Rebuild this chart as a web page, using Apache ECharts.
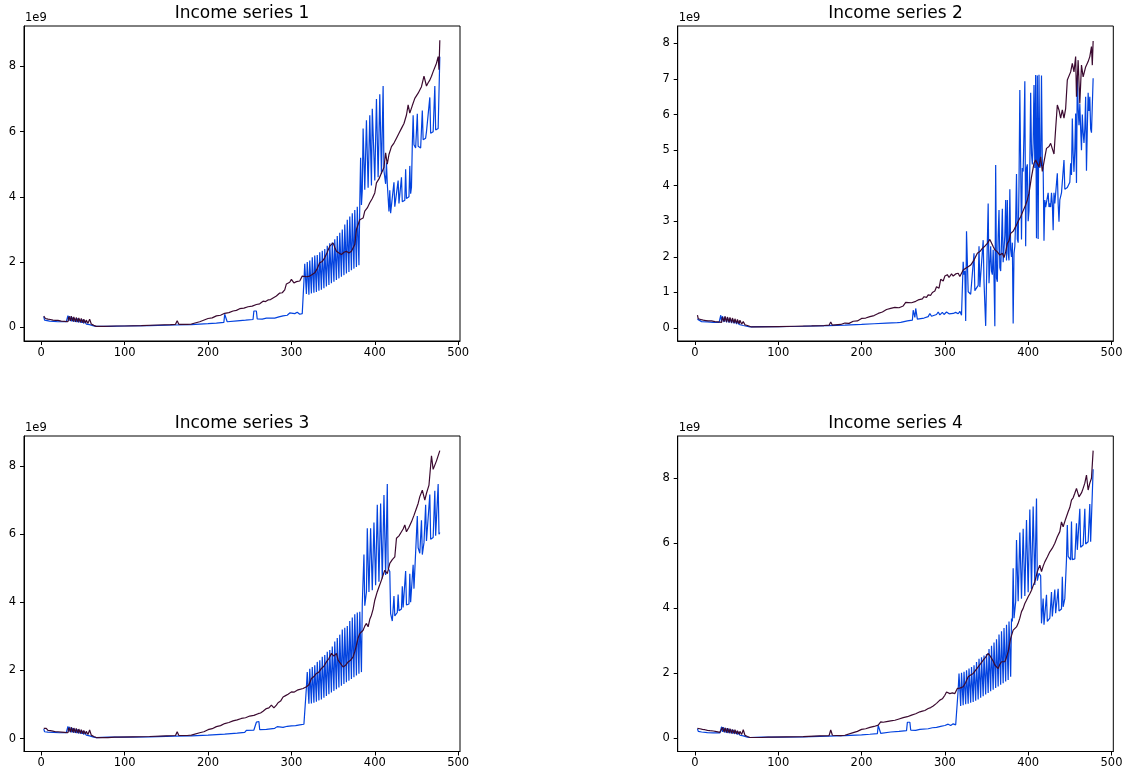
<!DOCTYPE html>
<html>
<head>
<meta charset="utf-8">
<title>Income series</title>
<script src="https://cdn.jsdelivr.net/npm/echarts@6/dist/echarts.min.js"></script>
<style>
  html, body { margin: 0; padding: 0; background: #ffffff; }
  #chart { width: 1130px; height: 776px; }
</style>
</head>
<body>
<div id="chart"></div>
<script>
// Monthly income, in units of 1e9. Each pair is [month index, value].
// "Actual" is the blue quarterly-spiking series, "Trend" the dark smoothed one.

const titles = ['Income series 1', 'Income series 2', 'Income series 3', 'Income series 4'];
const xTicks = [0, 100, 200, 300, 400, 500];
const yTicksEven = [0, 2, 4, 6, 8];
const yTicksAll = [0, 1, 2, 3, 4, 5, 6, 7, 8];
const exponentLabel = '1e9';

const inc1Actual = [
  [3,0.33],[4,0.22],[6,0.2],[10,0.19],[15,0.18],[20,0.17],[25,0.17],[30,0.17],[32,0.36],[33,0.2],[34,0.34],[36,0.18],[37,0.3],[39,0.17],[40,0.28],[42,0.16],[43,0.27],[45,0.15],[46,0.25],[48,0.14],[49,0.23],[51,0.12],[52,0.2],[54,0.1],[56,0.12],[58,0.08],[60,0.07],[63,0.04],[66,0.03],[80,0.03],[100,0.04],[130,0.05],[160,0.07],[180,0.08],[200,0.11],[210,0.13],[219,0.15],[220,0.4],[222,0.38],[223,0.17],[235,0.2],[245,0.22],[254,0.24],[255,0.5],[258,0.5],[259,0.26],[265,0.25],[270,0.28],[280,0.28],[285,0.32],[290,0.35],[295,0.37],[298,0.44],[300,0.38],[304,0.42],[307,0.46],[310,0.4],[313,0.42],[314,0.38],[315,1.4],
  [316,1.95],[318,1.02],[319,2.0],[321,1.0],[322,2.05],[324,1.04],[325,2.15],[327,1.06],[328,2.2],[330,1.08],[331,2.22],[333,1.12],[334,2.3],[336,1.15],[337,2.35],[339,1.2],[340,2.4],[342,1.25],[343,2.5],[345,1.3],[346,2.58],[348,1.35],[349,2.6],[351,1.4],[352,2.7],[354,1.45],[355,2.8],[357,1.5],[358,2.9],[360,1.55],[361,3.0],[363,1.6],[364,3.15],[366,1.65],[367,3.3],[369,1.7],[370,3.4],[372,1.75],[373,3.5],[375,1.8],[376,3.6],[378,1.85],[379,3.7],[381,1.9],[382,3.8],
  [383,5.2],[384,3.75],[385,4.2],[386,6.1],[388,4.22],[390,6.35],[392,4.28],[394,6.5],[396,4.35],[397,6.7],[400,4.5],[402,7.0],[404,4.6],[406,7.15],[408,4.7],[410,7.4],[411,4.8],[413,4.4],[414,5.05],[415,4.4],[417,3.55],[418,4.2],[419,3.5],[420,3.5],[421,3.55],[423,4.45],[424,3.7],[426,3.72],[428,4.5],[429,3.8],[431,3.82],[432,4.6],[433,3.85],[436,3.9],[437,4.85],[438,3.95],[441,4.0],[442,4.95],[443,4.1],[444,4.3],[445,5.6],[446,6.5],[447,5.6],[449,5.5],[450,5.55],[451,6.55],[452,5.55],[455,5.5],[457,6.65],[458,5.75],[461,5.8],[462,6.0],[466,7.05],[467,5.95],[470,6.0],[472,7.4],[473,6.05],[476,6.1],[477,6.15],[478,8.3]
];
const inc1Trend = [
  [3,0.34],[5,0.27],[6,0.31],[8,0.25],[9,0.29],[11,0.24],[12,0.27],[14,0.22],[15,0.26],[17,0.21],[18,0.25],[20,0.21],[22,0.24],[24,0.19],[26,0.22],[28,0.18],[30,0.2],[32,0.17],[33,0.33],[35,0.2],[36,0.34],[38,0.18],[39,0.32],[41,0.17],[42,0.3],[44,0.16],[45,0.29],[47,0.15],[48,0.27],[50,0.14],[51,0.25],[53,0.13],[54,0.22],[56,0.12],[58,0.25],[60,0.1],[63,0.06],[66,0.03],[75,0.03],[90,0.04],[100,0.04],[120,0.05],[140,0.07],[155,0.08],[161,0.09],[163,0.2],[165,0.09],[175,0.09],[180,0.1],[190,0.17],[200,0.27],[205,0.29],[210,0.35],[215,0.37],[220,0.43],[225,0.45],[230,0.5],[234,0.52],[238,0.57],[243,0.59],[248,0.63],[253,0.65],[258,0.7],[262,0.72],[266,0.8],[269,0.79],[272,0.84],[275,0.85],[278,0.9],[282,0.96],[286,1.05],[289,1.06],[292,1.15],[294,1.33],[296,1.3],[298,1.38],[300,1.47],[303,1.36],[306,1.4],[310,1.42],[313,1.57],[318,1.55],[322,1.57],[325,1.62],[328,1.67],[331,1.8],[334,1.98],[337,2.02],[340,2.13],[343,2.3],[346,2.49],[350,2.59],[352,2.45],[354,2.33],[357,2.28],[360,2.23],[363,2.3],[366,2.33],[369,2.28],[372,2.33],[376,2.54],[378,3.0],[382,3.3],[384,3.28],[386,3.35],[388,3.56],[391,3.66],[394,3.82],[397,3.95],[400,4.12],[402,4.43],[405,4.55],[408,4.73],[411,4.9],[413,5.35],[415,5.0],[417,5.3],[420,5.54],[423,5.65],[426,5.8],[429,5.95],[432,6.1],[435,6.25],[438,6.51],[440,6.82],[442,6.57],[445,6.8],[448,7.02],[450,7.05],[452,7.18],[454,7.2],[456,7.38],[459,7.7],[462,7.4],[464,7.5],[466,7.58],[468,7.7],[470,7.84],[472,7.9],[474,8.1],[476,8.3],[477,7.9],[478,8.8]
];

const inc2Actual = [
  [3,0.25],[4,0.2],[8,0.18],[15,0.17],[22,0.16],[29,0.16],[31,0.36],[32,0.18],[33,0.33],[35,0.17],[36,0.31],[38,0.16],[39,0.29],[41,0.15],[42,0.27],[44,0.14],[45,0.25],[47,0.13],[48,0.22],[50,0.11],[51,0.19],[53,0.1],[55,0.08],[58,0.07],[62,0.05],[66,0.03],[80,0.04],[100,0.04],[130,0.05],[160,0.07],[180,0.08],[200,0.1],[215,0.12],[230,0.14],[243,0.15],[245,0.2],[247,0.16],[255,0.2],[261,0.22],[262,0.5],[264,0.3],[265,0.55],[267,0.25],[275,0.28],[280,0.32],[282,0.41],[284,0.33],[290,0.38],[292,0.45],[294,0.37],[297,0.44],[299,0.38],[302,0.45],[305,0.4],[307,0.44],[310,0.41],[313,0.44],[316,0.4],[318,0.47],[320,0.36],[321,0.4],
  [322,1.86],[323,1.5],[324,1.6],[325,0.2],[326,2.72],[328,1.02],[331,0.95],[333,0.92],[335,2.1],[336,1.05],[337,1.1],[340,1.2],[341,2.3],[342,1.15],[344,1.2],[346,2.47],[347,1.3],[348,1.25],[349,0.06],[350,1.3],[351,2.4],[352,3.5],[353,1.26],[355,2.3],[356,1.6],[357,1.5],[358,2.2],[359,1.4],[360,0.05],[361,4.58],[362,1.4],[363,1.3],[364,2.6],[365,3.32],[366,1.7],[367,1.6],[368,2.4],[369,3.35],[370,1.85],[371,1.8],[372,2.6],[373,3.6],[374,1.9],[375,3.6],[376,2.1],[377,1.9],[378,3.9],[379,2.2],[380,2.0],[381,2.4],[382,0.13],[383,2.1],[384,2.3],[385,3.0],[386,4.33],[387,2.5],[388,2.4],[389,4.0],[390,6.69],[391,4.6],[392,2.49],[393,4.5],[394,4.4],[395,5.5],[396,6.94],[397,2.3],[398,4.5],[399,4.6],[400,3.0],[401,3.3],[402,4.55],[403,6.61],[404,4.9],[405,4.6],[406,5.2],[407,6.83],[408,4.5],[409,7.11],[410,2.52],[411,7.1],[412,2.5],[413,7.12],[414,4.5],[415,4.6],[416,7.1],[417,4.6],[418,4.5],[419,2.45],[420,3.6],[421,3.4],[423,3.36],[424,3.8],[425,3.4],[426,3.5],[427,3.4],[428,3.8],[429,3.5],[430,2.75],[431,3.8],[432,3.5],[433,3.5],[435,4.35],[436,3.5],[437,2.99],[438,3.6],[440,3.8],[441,3.85],[443,4.72],[444,3.9],[445,3.9],[447,3.95],[449,4.0],[450,4.1],[451,4.63],[452,4.3],[453,5.89],[454,4.9],[455,4.39],[456,5.0],[457,6.03],[458,4.08],[459,7.11],[460,6.2],[461,5.7],[462,6.3],[463,5.6],[464,5.0],[465,6.0],[466,5.5],[467,5.2],[468,5.6],[469,6.5],[470,4.42],[471,5.6],[472,6.61],[473,6.1],[474,6.5],[475,5.6],[476,5.49],[477,5.5],[478,7.02]
];
const inc2Trend = [
  [3,0.36],[4,0.26],[6,0.31],[7,0.24],[9,0.29],[10,0.22],[12,0.27],[13,0.21],[15,0.26],[16,0.2],[18,0.24],[20,0.2],[22,0.22],[24,0.18],[26,0.2],[28,0.17],[30,0.18],[32,0.16],[33,0.31],[35,0.18],[36,0.33],[38,0.17],[39,0.31],[41,0.16],[42,0.3],[44,0.15],[45,0.28],[47,0.14],[48,0.26],[50,0.13],[51,0.24],[53,0.12],[54,0.22],[56,0.11],[58,0.18],[60,0.09],[63,0.07],[68,0.03],[80,0.03],[100,0.04],[120,0.05],[140,0.06],[155,0.07],[161,0.08],[163,0.17],[165,0.08],[175,0.1],[180,0.14],[185,0.13],[190,0.19],[195,0.2],[200,0.27],[205,0.28],[210,0.32],[215,0.35],[220,0.41],[225,0.45],[230,0.52],[235,0.55],[240,0.58],[245,0.57],[250,0.62],[253,0.72],[255,0.68],[260,0.71],[265,0.75],[268,0.79],[270,0.83],[273,0.82],[275,0.88],[278,0.86],[280,0.93],[283,0.92],[285,1.0],[288,1.04],[290,1.16],[293,1.12],[295,1.37],[298,1.32],[300,1.46],[303,1.5],[305,1.42],[308,1.52],[310,1.46],[313,1.52],[316,1.54],[318,1.45],[320,1.4],[322,1.63],[325,1.68],[328,1.72],[331,1.77],[335,1.91],[339,2.1],[342,2.15],[345,2.24],[348,2.3],[351,2.38],[354,2.49],[358,2.29],[360,2.2],[363,2.14],[366,2.05],[369,2.1],[371,1.98],[373,2.14],[375,2.38],[377,2.45],[379,2.66],[382,2.72],[385,2.85],[388,3.0],[391,3.13],[394,3.3],[397,3.46],[399,3.6],[401,3.79],[404,4.25],[407,4.63],[409,4.72],[411,4.77],[413,4.53],[415,4.81],[417,4.4],[419,4.67],[422,5.05],[425,5.1],[427,5.19],[429,5.24],[431,4.89],[433,5.6],[435,6.27],[437,6.13],[439,5.9],[441,6.13],[443,5.9],[445,6.17],[447,6.97],[449,7.0],[451,7.2],[453,7.44],[455,7.2],[457,7.63],[458,6.5],[460,7.53],[462,6.31],[464,7.39],[466,7.06],[469,7.34],[472,7.49],[474,7.63],[476,7.91],[477,7.39],[478,8.07]
];

const inc3Actual = [
  [3,0.28],[4,0.2],[8,0.19],[15,0.18],[22,0.17],[30,0.17],[32,0.36],[33,0.2],[34,0.34],[36,0.18],[37,0.31],[39,0.17],[40,0.29],[42,0.16],[43,0.27],[45,0.15],[46,0.25],[48,0.14],[49,0.22],[51,0.12],[52,0.2],[54,0.1],[56,0.11],[58,0.08],[60,0.07],[63,0.04],[66,0.03],[80,0.04],[100,0.04],[130,0.05],[160,0.07],[180,0.08],[200,0.1],[220,0.13],[235,0.16],[244,0.18],[246,0.24],[255,0.25],[258,0.48],[261,0.5],[262,0.26],[270,0.27],[280,0.3],[283,0.35],[285,0.3],[290,0.33],[295,0.36],[300,0.37],[305,0.38],[310,0.4],[315,0.42],[317,0.42],[318,1.5],
  [319,1.95],[321,1.02],[322,2.05],[324,1.03],[325,2.1],[327,1.05],[328,2.15],[330,1.08],[331,2.25],[333,1.12],[334,2.3],[336,1.15],[337,2.4],[339,1.2],[340,2.45],[342,1.25],[343,2.55],[345,1.3],[346,2.6],[348,1.35],[349,2.7],[351,1.4],[352,2.85],[354,1.45],[355,2.95],[357,1.5],[358,3.05],[360,1.55],[361,3.2],[363,1.6],[364,3.25],[366,1.65],[367,3.3],[369,1.7],[370,3.45],[372,1.75],[373,3.55],[375,1.8],[376,3.65],[378,1.85],[379,3.7],[381,1.9],[382,3.72],[384,1.95],[385,3.95],[386,4.0],
  [387,5.4],[388,3.9],[390,4.3],[391,6.17],[393,4.3],[395,6.17],[397,4.35],[399,6.34],[401,4.5],[403,6.86],[405,4.6],[407,6.9],[409,4.7],[411,7.15],[413,4.8],[415,7.47],[416,5.0],[418,4.9],[419,3.67],[421,3.45],[422,3.48],[423,4.18],[424,3.6],[427,3.7],[428,4.23],[429,3.75],[432,3.8],[433,4.47],[434,3.85],[436,3.9],[437,4.92],[438,3.92],[441,3.95],[442,4.84],[443,4.0],[445,4.05],[446,5.1],[447,4.4],[449,4.45],[450,6.0],[451,6.53],[452,5.6],[454,5.44],[455,5.4],[456,6.41],[457,5.4],[459,5.75],[461,6.86],[462,5.8],[464,5.83],[466,7.16],[467,5.85],[470,5.9],[472,7.27],[473,5.95],[475,5.95],[476,7.47],[477,6.0],[478,6.05]
];
const inc3Trend = [
  [3,0.3],[5,0.25],[6,0.3],[8,0.24],[9,0.28],[11,0.23],[12,0.27],[14,0.22],[15,0.26],[17,0.2],[18,0.24],[20,0.2],[22,0.23],[24,0.19],[26,0.21],[28,0.18],[30,0.19],[32,0.17],[33,0.32],[35,0.19],[36,0.33],[38,0.18],[39,0.31],[41,0.17],[42,0.3],[44,0.16],[45,0.28],[47,0.15],[48,0.26],[50,0.14],[51,0.24],[53,0.13],[54,0.21],[56,0.12],[58,0.25],[60,0.1],[63,0.06],[66,0.03],[80,0.03],[88,0.04],[90,0.08],[92,0.04],[110,0.05],[130,0.06],[150,0.08],[161,0.09],[163,0.2],[165,0.09],[175,0.09],[180,0.1],[190,0.17],[195,0.2],[200,0.26],[205,0.29],[210,0.35],[215,0.38],[220,0.44],[225,0.47],[230,0.52],[235,0.55],[240,0.59],[245,0.61],[250,0.66],[255,0.68],[260,0.73],[263,0.75],[266,0.8],[270,0.88],[273,0.9],[276,0.98],[279,0.9],[282,0.98],[284,1.05],[287,1.1],[290,1.22],[293,1.26],[296,1.3],[300,1.37],[303,1.36],[305,1.4],[308,1.43],[310,1.44],[314,1.47],[318,1.52],[321,1.58],[324,1.76],[327,1.82],[330,1.91],[333,1.95],[336,2.06],[339,2.12],[342,2.25],[345,2.35],[348,2.5],[351,2.42],[354,2.5],[356,2.3],[359,2.2],[362,2.1],[365,2.15],[368,2.25],[371,2.3],[374,2.4],[376,2.55],[378,2.74],[380,2.95],[382,3.08],[384,3.05],[386,3.18],[388,3.3],[390,3.38],[392,3.28],[394,3.5],[396,3.62],[398,3.8],[400,4.06],[403,4.31],[405,4.45],[408,4.65],[410,4.8],[412,4.94],[415,4.84],[418,5.14],[421,5.25],[424,5.33],[426,5.88],[429,5.95],[432,6.07],[434,6.15],[436,6.27],[438,6.07],[441,6.2],[444,6.36],[447,6.55],[450,6.76],[452,6.9],[454,7.1],[457,7.29],[460,7.0],[462,7.2],[465,7.44],[468,8.3],[470,7.9],[474,8.15],[478,8.45]
];

const inc4Actual = [
  [3,0.3],[4,0.22],[8,0.2],[15,0.18],[22,0.17],[30,0.17],[32,0.36],[33,0.2],[34,0.35],[36,0.18],[37,0.32],[39,0.17],[40,0.3],[42,0.16],[43,0.28],[45,0.15],[46,0.26],[48,0.14],[49,0.23],[51,0.12],[52,0.2],[54,0.1],[56,0.11],[58,0.08],[60,0.07],[63,0.04],[66,0.03],[80,0.04],[100,0.04],[130,0.05],[160,0.07],[180,0.09],[200,0.11],[210,0.13],[219,0.15],[220,0.4],[222,0.38],[223,0.16],[235,0.2],[245,0.22],[254,0.24],[255,0.5],[258,0.5],[259,0.26],[265,0.25],[270,0.28],[280,0.3],[285,0.33],[290,0.34],[295,0.37],[300,0.4],[304,0.44],[307,0.4],[310,0.45],[313,0.42],[315,0.42],[316,1.5],
  [317,2.0],[319,1.0],[320,2.02],[322,1.02],[323,2.05],[325,1.05],[326,2.1],[328,1.07],[329,2.15],[331,1.1],[332,2.2],[334,1.12],[335,2.25],[337,1.16],[338,2.35],[340,1.2],[341,2.45],[343,1.25],[344,2.5],[346,1.3],[347,2.55],[349,1.35],[350,2.6],[352,1.4],[353,2.75],[355,1.45],[356,2.85],[358,1.5],[359,2.95],[361,1.55],[362,3.05],[364,1.6],[365,3.2],[367,1.65],[368,3.3],[370,1.7],[371,3.4],[373,1.75],[374,3.5],[376,1.8],[377,3.6],[379,1.9],[380,3.69],[381,3.6],
  [382,5.23],[383,3.7],[385,4.2],[386,6.1],[388,4.22],[390,6.33],[392,4.3],[394,6.45],[396,4.38],[398,6.72],[400,4.5],[402,7.04],[404,4.6],[406,7.13],[408,4.72],[410,7.38],[411,4.85],[413,5.08],[415,5.0],[416,3.54],[418,4.3],[419,3.5],[421,3.48],[422,4.42],[423,3.6],[426,3.7],[428,4.5],[429,3.75],[431,3.8],[432,4.58],[433,3.85],[435,3.88],[436,4.6],[437,3.92],[440,3.98],[441,4.97],[442,4.05],[444,4.3],[446,5.5],[447,6.56],[448,5.6],[451,5.49],[452,6.67],[453,5.5],[456,5.52],[458,6.62],[459,5.8],[461,5.85],[462,7.06],[463,5.88],[466,5.95],[468,7.06],[469,5.98],[472,6.05],[474,7.21],[475,6.05],[477,6.1],[478,8.28]
];
const inc4Trend = [
  [3,0.31],[5,0.26],[6,0.3],[8,0.24],[9,0.28],[11,0.23],[12,0.27],[14,0.22],[15,0.25],[17,0.2],[18,0.24],[20,0.2],[22,0.23],[24,0.19],[26,0.21],[28,0.18],[30,0.19],[32,0.17],[33,0.34],[35,0.2],[36,0.33],[38,0.18],[39,0.32],[41,0.17],[42,0.3],[44,0.16],[45,0.28],[47,0.15],[48,0.27],[50,0.14],[51,0.24],[53,0.13],[54,0.22],[56,0.12],[58,0.27],[60,0.1],[63,0.06],[66,0.03],[80,0.03],[88,0.04],[90,0.09],[92,0.04],[110,0.05],[130,0.06],[150,0.08],[161,0.09],[163,0.26],[165,0.1],[175,0.09],[180,0.1],[190,0.18],[195,0.22],[200,0.28],[205,0.3],[210,0.34],[215,0.37],[220,0.41],[223,0.51],[226,0.5],[230,0.52],[235,0.54],[240,0.56],[245,0.6],[250,0.64],[255,0.67],[260,0.72],[265,0.76],[270,0.82],[273,0.84],[276,0.86],[280,0.92],[283,0.95],[286,1.0],[290,1.08],[294,1.18],[297,1.22],[300,1.33],[302,1.43],[304,1.4],[306,1.38],[309,1.4],[312,1.38],[315,1.54],[318,1.55],[322,1.59],[325,1.72],[328,1.9],[331,1.95],[334,2.0],[337,2.1],[340,2.2],[343,2.3],[346,2.41],[349,2.5],[352,2.62],[354,2.55],[356,2.51],[358,2.38],[360,2.26],[362,2.2],[364,2.15],[366,2.28],[368,2.36],[370,2.32],[372,2.36],[374,2.5],[376,2.67],[379,3.08],[382,3.33],[384,3.36],[386,3.43],[388,3.54],[390,3.7],[392,3.9],[394,4.0],[396,4.15],[398,4.25],[400,4.36],[402,4.45],[404,4.56],[406,4.7],[408,4.82],[411,5.13],[414,5.33],[416,5.13],[418,5.3],[420,5.43],[423,5.58],[426,5.74],[429,5.85],[432,6.0],[435,6.2],[438,6.36],[440,6.66],[442,6.51],[445,6.75],[448,6.97],[450,7.1],[452,7.33],[454,7.4],[456,7.54],[458,7.69],[461,7.43],[464,7.55],[466,7.69],[468,7.85],[470,8.1],[472,7.64],[474,7.85],[476,8.0],[478,8.85]
];

// ---- layout and styling ----
const FONT = '"DejaVu Sans", Verdana, sans-serif';
const ACTUAL_COLOR = '#0343df';
const TREND_COLOR = '#3b0a30';
const X_RANGE = [-20.7, 502.2];

const panels = [
  { title: titles[0], actual: inc1Actual, trend: inc1Trend, yTicks: yTicksEven, yRange: [-0.42, 9.24],
    box: { left: 24, top: 26, width: 436, height: 315 } },
  { title: titles[1], actual: inc2Actual, trend: inc2Trend, yTicks: yTicksAll, yRange: [-0.365, 8.49],
    box: { left: 677.7, top: 26, width: 435.6, height: 315 } },
  { title: titles[2], actual: inc3Actual, trend: inc3Trend, yTicks: yTicksEven, yRange: [-0.38, 8.88],
    box: { left: 24, top: 436, width: 436, height: 315.5 } },
  { title: titles[3], actual: inc4Actual, trend: inc4Trend, yTicks: yTicksEven, yRange: [-0.40, 9.3],
    box: { left: 677.7, top: 436, width: 435.6, height: 315.5 } }
];

const tickFont = { fontFamily: FONT, fontSize: 11.5, color: '#000' };

const grid = [], xAxis = [], yAxis = [], series = [], graphic = [];

panels.forEach((p, i) => {
  grid.push(Object.assign({
    show: true, borderColor: '#000', borderWidth: 1,
    backgroundColor: 'transparent', containLabel: false, outerBoundsMode: 'none'
  }, p.box));

  xAxis.push({
    type: 'value', gridIndex: i, min: X_RANGE[0], max: X_RANGE[1],
    axisLine: { show: true, onZero: false, lineStyle: { color: '#000', width: 1 } },
    axisTick: { show: true, inside: false, length: 4, customValues: xTicks, lineStyle: { color: '#000', width: 1 } },
    axisLabel: Object.assign({ customValues: xTicks, margin: 6, formatter: v => String(v) }, tickFont),
    splitLine: { show: false }
  });

  yAxis.push({
    type: 'value', gridIndex: i, min: p.yRange[0], max: p.yRange[1],
    axisLine: { show: true, onZero: false, lineStyle: { color: '#000', width: 1 } },
    axisTick: { show: true, inside: false, length: 4, customValues: p.yTicks, lineStyle: { color: '#000', width: 1 } },
    axisLabel: Object.assign({ customValues: p.yTicks, margin: 8, formatter: v => String(v) }, tickFont),
    splitLine: { show: false }
  });

  series.push({
    type: 'line', name: p.title + ' actual', xAxisIndex: i, yAxisIndex: i,
    data: p.actual, showSymbol: false, symbol: 'none', smooth: false,
    lineStyle: { color: ACTUAL_COLOR, width: 1.2 }, itemStyle: { color: ACTUAL_COLOR },
    emphasis: { disabled: true }, z: 2
  });
  series.push({
    type: 'line', name: p.title + ' trend', xAxisIndex: i, yAxisIndex: i,
    data: p.trend, showSymbol: false, symbol: 'none', smooth: false,
    lineStyle: { color: TREND_COLOR, width: 1.2 }, itemStyle: { color: TREND_COLOR },
    emphasis: { disabled: true }, z: 3
  });

  graphic.push({
    type: 'text', x: p.box.left + p.box.width / 2, y: p.box.top - 12.5,
    style: { text: p.title, fontFamily: FONT, fontSize: 17, fill: '#000', align: 'center', verticalAlign: 'middle' }
  });
  graphic.push({
    type: 'text', x: p.box.left + 1, y: p.box.top - 7.5,
    style: { text: exponentLabel, fontFamily: FONT, fontSize: 11.5, fill: '#000', align: 'left', verticalAlign: 'middle' }
  });
});

const chart = echarts.init(document.getElementById('chart'), null, { renderer: 'canvas', width: 1130, height: 776 });
chart.setOption({
  animation: false,
  backgroundColor: '#ffffff',
  grid, xAxis, yAxis, series, graphic
});
</script>
</body>
</html>
